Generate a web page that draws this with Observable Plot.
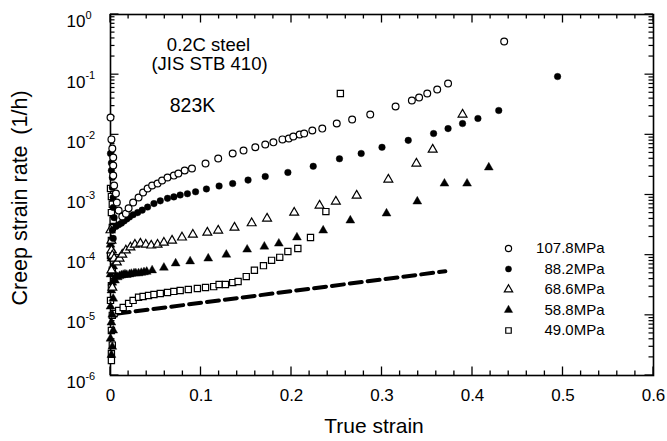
<!DOCTYPE html>
<html><head><meta charset="utf-8">
<script src="https://cdn.jsdelivr.net/npm/d3@7"></script>
<script src="https://cdn.jsdelivr.net/npm/@observablehq/plot@0.6"></script>
<style>
html,body{margin:0;padding:0;background:#fff;overflow:hidden;}
#chart svg{display:block;font-family:'Liberation Sans', Arial, Helvetica, sans-serif;}
</style></head><body><div id="chart"></div>
<script>
// ---- data (true strain, creep strain rate 1/h) ----
const seriesNames = ["107.8MPa", "88.2MPa", "68.6MPa", "58.8MPa", "49.0MPa"];

const s1078 = [[0.000,0.0194],[0.001,0.0084],[0.002,0.0059],[0.003,0.0042],[0.003,0.0031],[0.003,0.0021],[0.004,0.00144],[0.006,0.00106],[0.007,0.00075],[0.009,0.00055],[0.013,0.00044],[0.017,0.00049],[0.020,0.00060],[0.025,0.00075],[0.031,0.00091],[0.036,0.0011],[0.041,0.00128],[0.046,0.00144],[0.052,0.00155],[0.057,0.00174],[0.063,0.00195],[0.070,0.0021],[0.075,0.00228],[0.082,0.00255],[0.090,0.00276],[0.105,0.00334],[0.119,0.00405],[0.135,0.0049],[0.147,0.0055],[0.160,0.0062],[0.171,0.0069],[0.180,0.0075],[0.190,0.0084],[0.197,0.0087],[0.202,0.0094],[0.209,0.0101],[0.214,0.0105],[0.223,0.0118],[0.234,0.0127],[0.250,0.0154],[0.267,0.018],[0.287,0.0218],[0.315,0.0296],[0.333,0.0372],[0.341,0.0418],[0.350,0.0487],[0.361,0.0568],[0.373,0.0713],[0.435,0.356]];

const s882 = [[0.000,0.0049],[0.001,0.0034],[0.001,0.00255],[0.002,0.00195],[0.002,0.00133],[0.003,0.00091],[0.003,0.00062],[0.004,0.00042],[0.002,0.00026],[0.003,0.00019],[0.006,0.00030],[0.009,0.00032],[0.012,0.00034],[0.015,0.00037],[0.018,0.00040],[0.021,0.00043],[0.025,0.00047],[0.030,0.00051],[0.035,0.00056],[0.041,0.00063],[0.048,0.00072],[0.055,0.00080],[0.063,0.00088],[0.070,0.00093],[0.077,0.00100],[0.085,0.00105],[0.094,0.00113],[0.106,0.00126],[0.120,0.00141],[0.135,0.00155],[0.152,0.00177],[0.171,0.00203],[0.196,0.00237],[0.224,0.0030],[0.253,0.0040],[0.277,0.0049],[0.300,0.0062],[0.329,0.0081],[0.357,0.0105],[0.373,0.0127],[0.389,0.0154],[0.406,0.0187],[0.429,0.0254],[0.494,0.093]];

const s686 = [[0.000,0.00026],[0.001,0.000175],[0.001,0.00012],[0.002,0.000099],[0.001,0.000056],[0.002,0.000029],[0.004,0.000088],[0.007,0.000076],[0.010,0.000088],[0.013,0.000102],[0.017,0.00012],[0.022,0.000135],[0.027,0.00015],[0.033,0.000156],[0.039,0.00015],[0.045,0.000145],[0.052,0.00015],[0.059,0.000162],[0.068,0.000175],[0.079,0.000197],[0.091,0.00022],[0.107,0.000238],[0.119,0.000257],[0.137,0.000288],[0.156,0.00034],[0.173,0.000407],[0.203,0.00051],[0.231,0.00067],[0.249,0.00078],[0.272,0.00098],[0.307,0.00181],[0.338,0.00334],[0.356,0.0057],[0.389,0.0218]];

const s588 = [[0.000,0.00015],[0.002,0.00012],[0.001,0.000088],[0.003,0.000065],[0.000,0.000048],[0.002,0.000035],[0.001,0.000026],[0.003,0.000019],[0.000,0.000014],[0.002,0.0000103],[0.001,0.0000076],[0.003,0.0000056],[0.000,0.0000041],[0.002,0.000003],[0.001,0.0000022],[0.005,0.000038],[0.006,0.000045],[0.008,0.000043],[0.010,0.000045],[0.012,0.000046],[0.014,0.000047],[0.016,0.000048],[0.018,0.000047],[0.021,0.000048],[0.023,0.000049],[0.026,0.00005],[0.028,0.00005],[0.031,0.00005],[0.034,0.000051],[0.037,0.000052],[0.040,0.000053],[0.046,0.000056],[0.059,0.000062],[0.072,0.000073],[0.088,0.000079],[0.108,0.000088],[0.128,0.000102],[0.151,0.000124],[0.170,0.000139],[0.186,0.000156],[0.206,0.000197],[0.235,0.000257],[0.265,0.000377],[0.305,0.000493],[0.339,0.00078],[0.369,0.00155],[0.394,0.00155],[0.418,0.00287]];

const s490 = [[0.000,0.00128],[0.001,0.00094],[0.002,0.0007],[0.001,0.00051],[0.003,0.00038],[0.002,0.000288],[0.001,0.000175],[0.000,0.000099],[0.002,0.000056],[0.001,0.000031],[0.000,0.0000177],[0.002,0.00001],[0.001,0.0000056],[0.002,0.0000032],[0.001,0.0000023],[0.001,0.00000178],[0.004,0.0000107],[0.009,0.000012],[0.014,0.0000135],[0.020,0.0000158],[0.025,0.0000177],[0.031,0.00002],[0.036,0.0000206],[0.042,0.0000214],[0.048,0.0000222],[0.055,0.0000231],[0.063,0.000024],[0.070,0.000025],[0.077,0.0000259],[0.086,0.0000269],[0.096,0.0000279],[0.105,0.000029],[0.114,0.00003],[0.120,0.0000326],[0.127,0.0000326],[0.135,0.000035],[0.141,0.0000365],[0.150,0.000044],[0.159,0.000056],[0.169,0.000067],[0.178,0.000082],[0.187,0.000092],[0.196,0.000115],[0.207,0.000129],[0.221,0.000197],[0.238,0.00053],[0.254,0.0487]];

const dashLine = [[0.008,0.0000107],[0.370,0.000054]];

const xDomain = [0, 0.6];
const yDomain = [1e-6, 1];
const xTicks = [0, 0.1, 0.2, 0.3, 0.4, 0.5, 0.6];
const xMinorTicks = [0.02,0.04,0.06,0.08,0.12,0.14,0.16,0.18,0.22,0.24,0.26,0.28,0.32,0.34,0.36,0.38,0.42,0.44,0.46,0.48,0.52,0.54,0.56,0.58];
const yTicks = [1e-6, 1e-5, 1e-4, 1e-3, 1e-2, 1e-1, 1];
const yExponents = [-6, -5, -4, -3, -2, -1, 0];
const yMinorTicks = [];
for (const p of yTicks.slice(0, -1)) for (let m = 2; m <= 9; m++) yMinorTicks.push(m * p);

const annotations = ["0.2C steel", "(JIS STB 410)", "823K"];
const xTitle = "True strain";
const yTitle = "Creep strain rate\u2002(1/h)";

// ---- styles ----
const symbols = ["circle", "circle", "triangle", "triangle", "square"];
const fills = ["white", "black", "white", "black", "white"];
const radii = [3.4, 3.3, 3.3, 3.3, 3.5];

const W = 667, H = 441, mL = 110, mR = 14, mT = 14, mB = 66;
const pw = W - mL - mR, ph = H - mT - mB;

const dotMark = (arr, i) => Plot.dot(arr, {
  x: d => d[0], y: d => d[1], symbol: symbols[i], r: radii[i],
  fill: fills[i], stroke: "black", strokeWidth: fills[i] === "white" ? 1.2 : 0.4
});

const legendMarks = [];
seriesNames.forEach((name, i) => {
  const dy = 234 + i * 20.5;
  legendMarks.push(Plot.dot([name], {frameAnchor: "top-left", dx: 398, dy, symbol: symbols[i], r: 3.1,
    fill: fills[i], stroke: "black", strokeWidth: fills[i] === "white" ? 1.2 : 0.4}));
  legendMarks.push(Plot.text([name], {text: d => d, frameAnchor: "top-left", dx: 494, dy,
    textAnchor: "end", lineAnchor: "middle", fontSize: 15}));
});

// inward ticks as thin filled rectangles
const xTickRects = (data, len, side) => Plot.rect(data, {
  x1: d => d, x2: d => d, insetLeft: -0.65, insetRight: -0.65,
  [side === "bottom" ? "insetTop" : "insetBottom"]: ph - len, fill: "black"
});
const yTickRects = (data, len, side) => Plot.rect(data, {
  y1: d => d, y2: d => d, insetTop: -0.6, insetBottom: -0.6,
  [side === "left" ? "insetRight" : "insetLeft"]: pw - len, fill: "black"
});

const chart = Plot.plot({
  width: W, height: H,
  marginLeft: mL, marginRight: mR, marginTop: mT, marginBottom: mB,
  x: {domain: xDomain, label: null},
  y: {type: "log", domain: yDomain, axis: null},
  marks: [
    // box: black filled frame with a white inner frame on top
    Plot.frame({fill: "black", stroke: null, inset: -0.8}),
    Plot.frame({fill: "white", stroke: null, inset: 0.8}),
    xTickRects(xMinorTicks, 4.5, "bottom"),
    xTickRects(xMinorTicks, 4.5, "top"),
    xTickRects(xTicks, 8.5, "bottom"),
    xTickRects(xTicks, 8.5, "top"),
    yTickRects(yMinorTicks, 4.5, "left"),
    yTickRects(yMinorTicks, 4.5, "right"),
    yTickRects(yTicks, 8.5, "left"),
    yTickRects(yTicks, 8.5, "right"),
    Plot.axisX(xTicks, {tickSize: 0, tickPadding: 13, fontSize: 17, label: null, tickFormat: d => String(d)}),
    Plot.text(yTicks, {y: d => d, frameAnchor: "left", dx: -44, dy: 7.5, textAnchor: "start", lineAnchor: "middle", fontSize: 17,
      text: (d, i) => "10^" + yExponents[i]}),
    Plot.text([xTitle], {text: d => d, frameAnchor: "bottom", dx: -8, dy: 51, textAnchor: "middle", lineAnchor: "middle", fontSize: 21}),
    Plot.text([yTitle], {text: d => d, frameAnchor: "left", dx: -90, dy: 3, rotate: -90, textAnchor: "middle", lineAnchor: "middle", fontSize: 21.5}),
    Plot.text([annotations[0]], {text: d => d, frameAnchor: "top-left", dx: 98, dy: 31, textAnchor: "middle", lineAnchor: "middle", fontSize: 18.5}),
    Plot.text([annotations[1]], {text: d => d, frameAnchor: "top-left", dx: 99, dy: 50, textAnchor: "middle", lineAnchor: "middle", fontSize: 18.5}),
    Plot.text([annotations[2]], {text: d => d, frameAnchor: "top-left", dx: 82, dy: 91, textAnchor: "middle", lineAnchor: "middle", fontSize: 19.5}),
    Plot.line(dashLine, {x: d => d[0], y: d => d[1], stroke: "black", strokeWidth: 4, strokeDasharray: "12,6"}),
    dotMark(s490, 4),
    dotMark(s588, 3),
    dotMark(s686, 2),
    dotMark(s882, 1),
    dotMark(s1078, 0),
    ...legendMarks
  ]
});

// superscript exponents for the log-axis labels
d3.select(chart).selectAll("text").each(function () {
  const m = /^10\^(-?\d+)$/.exec(this.textContent);
  if (!m) return;
  const sel = d3.select(this);
  sel.text(null);
  sel.append("tspan").text("10");
  sel.append("tspan").attr("dy", -8.5).attr("font-size", 11).text(m[1]);
});

document.getElementById("chart").appendChild(chart);
</script>
</body></html>
